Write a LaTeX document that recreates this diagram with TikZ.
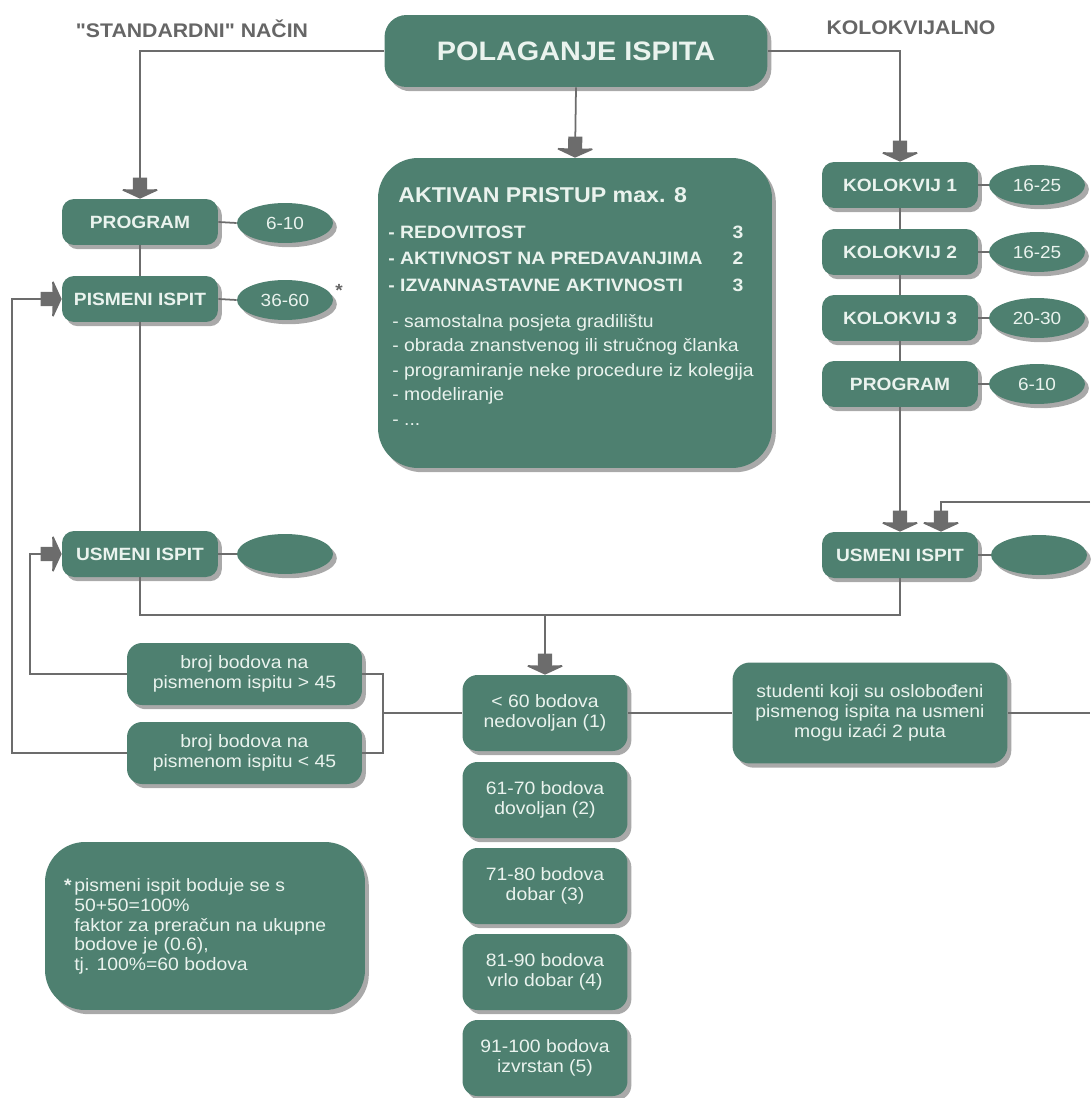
\documentclass[tikz,border=0pt]{standalone}
\usepackage{fontspec}
\setmainfont[FakeStretch=1.08]{Liberation Sans}
\newfontfamily\plainsans[FakeStretch=1.08]{Liberation Sans}
\usetikzlibrary{shapes.geometric,shadows}

\definecolor{boxc}{RGB}{78,128,112}
\definecolor{txtc}{RGB}{234,243,238}
\definecolor{linec}{RGB}{108,108,108}
\definecolor{arrc}{RGB}{88,88,88}
\definecolor{headc}{RGB}{102,102,102}

\pgfdeclarearrow{
  name=BlockArr,
  setup code={
    \pgfarrowssettipend{0pt}
    \pgfarrowssetbackend{-12pt}
    \pgfarrowssetlineend{-10pt}
    \pgfarrowshullpoint{0pt}{0pt}
    \pgfarrowshullpoint{-5pt}{10pt}
    \pgfarrowshullpoint{-5pt}{-10pt}
    \pgfarrowshullpoint{-12pt}{4pt}
    \pgfarrowshullpoint{-12pt}{-4pt}
  },
  drawing code={
    \pgfpathmoveto{\pgfqpoint{0pt}{0pt}}
    \pgfpathlineto{\pgfqpoint{-4.6pt}{10pt}}
    \pgfpathlineto{\pgfqpoint{-5.4pt}{9.6pt}}
    \pgfpathlineto{\pgfqpoint{-5.2pt}{4pt}}
    \pgfpathlineto{\pgfqpoint{-12pt}{4pt}}
    \pgfpathlineto{\pgfqpoint{-12pt}{-4pt}}
    \pgfpathlineto{\pgfqpoint{-5.2pt}{-4pt}}
    \pgfpathlineto{\pgfqpoint{-5.4pt}{-9.6pt}}
    \pgfpathlineto{\pgfqpoint{-4.6pt}{-10pt}}
    \pgfpathclose
    \pgfusepathqfill
  }
}

\tikzset{
  base/.style={fill=boxc, text=txtc, inner sep=0pt, align=center,
    drop shadow={shadow xshift=2.2pt, shadow yshift=-2.4pt, opacity=0.45, fill=black!75}},
  bigbox/.style={base, minimum width=7.66cm, minimum height=1.44cm, rounded corners=0.44cm,
    font=\bfseries\fontsize{15.2}{17}\selectfont},
  aktbox/.style={base, minimum width=7.88cm, minimum height=6.2cm, rounded corners=0.8cm},
  lab/.style={base, minimum width=3.12cm, minimum height=0.92cm, rounded corners=0.24cm,
    font=\bfseries\fontsize{10.1}{12}\selectfont},
  oval/.style={base, ellipse, minimum width=1.92cm, minimum height=0.8cm,
    font=\fontsize{10}{12}\selectfont},
  note/.style={base, rounded corners=0.3cm, font=\fontsize{10.2}{11.2}\selectfont},
  head/.style={text=headc, inner sep=0pt, font=\plainsans\bfseries\fontsize{11.2}{13}\selectfont},
  intxt/.style={text=txtc, inner sep=0pt},
  conn/.style={draw=linec, line width=1pt},
  arr/.style={conn, -BlockArr, color=arrc, draw=linec}
}

\begin{document}
\begin{tikzpicture}[x=0.02cm, y=-0.02cm]
\useasboundingbox (0,0) rectangle (1090,1098);

% headings
\node[head] (hstd) at (192,29) {"STANDARDNI" NAČIN};
\node[head] (hkol) at (911,28) {KOLOKVIJALNO};

% top box
\node[bigbox] (pol) at (576,51) {POLAGANJE ISPITA};

% aktivan pristup box
\node[aktbox] (akt) at (575,313) {};
\node[intxt, anchor=west, font=\bfseries\fontsize{12.2}{14}\selectfont] (atitle) at (398,195) {AKTIVAN PRISTUP max. 8};
\node[intxt, anchor=base west, font=\bfseries\fontsize{10.2}{12}\selectfont] (a1) at (388,238.5) {- REDOVITOST};
\node[intxt, anchor=base west, font=\bfseries\fontsize{10.2}{12}\selectfont] (a2) at (388,264.5) {- AKTIVNOST NA PREDAVANJIMA};
\node[intxt, anchor=base west, font=\bfseries\fontsize{10.2}{12}\selectfont] (a3) at (388,291.5) {- IZVANNASTAVNE AKTIVNOSTI};
\node[intxt, anchor=base, font=\bfseries\fontsize{10.2}{12}\selectfont] (n1) at (738,238.5) {3};
\node[intxt, anchor=base, font=\bfseries\fontsize{10.2}{12}\selectfont] (n2) at (738,264.5) {2};
\node[intxt, anchor=base, font=\bfseries\fontsize{10.2}{12}\selectfont] (n3) at (738,291.5) {3};
\node[intxt, anchor=base west, font=\fontsize{10.2}{12}\selectfont] (s1) at (392,327) {- samostalna posjeta gradilištu};
\node[intxt, anchor=base west, font=\fontsize{10.2}{12}\selectfont] (s2) at (392,351.5) {- obrada znanstvenog ili stručnog članka};
\node[intxt, anchor=base west, font=\fontsize{10.2}{12}\selectfont] (s3) at (392,376) {- programiranje neke procedure iz kolegija};
\node[intxt, anchor=base west, font=\fontsize{10.2}{12}\selectfont] (s4) at (392,400.5) {- modeliranje};
\node[intxt, anchor=base west, font=\fontsize{10.2}{12}\selectfont] (s5) at (392,425) {- ...};

% left column
\node[lab] (progL) at (140,222) {PROGRAM};
\node[lab] (pisL) at (140,299) {PISMENI ISPIT};
\node[lab] (usmL) at (140,554) {USMENI ISPIT};
\node[oval] (eprogL) at (285,223) {6-10};
\node[oval] (episL) at (285,300) {36-60};
\node[oval] (eusmL) at (285,554) {};
\node[text=headc, inner sep=0pt, font=\bfseries\fontsize{10}{12}\selectfont] (ast) at (339,290) {*};

% right column
\node[lab] (k1) at (900,185) {KOLOKVIJ 1};
\node[lab] (k2) at (900,252) {KOLOKVIJ 2};
\node[lab] (k3) at (900,318) {KOLOKVIJ 3};
\node[lab] (progR) at (900,384) {PROGRAM};
\node[lab] (usmR) at (900,555) {USMENI ISPIT};
\node[oval] (ek1) at (1037,185) {16-25};
\node[oval] (ek2) at (1037,252) {16-25};
\node[oval] (ek3) at (1037,318) {20-30};
\node[oval] (eprogR) at (1037,384) {6-10};
\node[oval] (eusmR) at (1039,555) {};

% lower boxes
\node[note, minimum width=4.7cm, minimum height=1.24cm] (b1) at (244.5,674) {broj bodova na\\pismenom ispitu > 45};
\node[note, minimum width=4.7cm, minimum height=1.24cm] (b2) at (244.5,753) {broj bodova na\\pismenom ispitu < 45};
\node[note, minimum width=3.3cm, minimum height=1.52cm] (g1) at (545,713) {< 60 bodova\\nedovoljan (1)};
\node[note, minimum width=3.3cm, minimum height=1.52cm] (g2) at (545,800) {61-70 bodova\\dovoljan (2)};
\node[note, minimum width=3.3cm, minimum height=1.52cm] (g3) at (545,886) {71-80 bodova\\dobar (3)};
\node[note, minimum width=3.3cm, minimum height=1.52cm] (g4) at (545,972) {81-90 bodova\\vrlo dobar (4)};
\node[note, minimum width=3.3cm, minimum height=1.52cm] (g5) at (545,1058) {91-100 bodova\\izvrstan (5)};
\node[note, minimum width=5.5cm, minimum height=2.02cm, rounded corners=0.35cm] (stud) at (870,713)
  {studenti koji su oslobođeni\\pismenog ispita na usmeni\\mogu izaći 2 puta};

% footnote box
\node[base, minimum width=6.4cm, minimum height=3.36cm, rounded corners=0.8cm] (foot) at (205,926) {};
\node[intxt, anchor=north west, align=left, font=\fontsize{10.2}{11.3}\selectfont] (foottxt) at (74,878)
  {\llap{\bfseries*\hspace{1.5pt}}pismeni ispit boduje se s\\50+50=100\%\\faktor za preračun na ukupne\\bodove je (0.6),\\tj. 100\%=60 bodova};

% helper coordinates
\coordinate (bus) at (545,615);
\coordinate (lb1) at (30,674);
\coordinate (lb2) at (12,753);
\coordinate (br1) at (383,674);
\coordinate (br2) at (383,753);
\coordinate (brm) at (383,713);
\coordinate (rout) at (1090,713);
\coordinate (rin) at (1090,502);

% connectors
\draw[arr] (pol.west) -| (progL.north);
\draw[arr] (pol.east) -| (k1.north);
\draw[arr] (pol.south) -- (akt.north);

\draw[conn] (progL.south) -- (pisL.north);
\draw[conn] (pisL.south) -- (usmL.north);
\draw[conn] (progL.east) -- (eprogL.west);
\draw[conn] (pisL.east) -- (episL.west);
\draw[conn] (usmL.east) -- (eusmL.west);

\draw[conn] (k1.south) -- (k2.north);
\draw[conn] (k2.south) -- (k3.north);
\draw[conn] (k3.south) -- (progR.north);
\draw[arr] (progR.south) -- (usmR.north);
\draw[arr] (rin) -| ([xshift=0.82cm]usmR.north);
\draw[conn] (k1.east) -- (ek1.west);
\draw[conn] (k2.east) -- (ek2.west);
\draw[conn] (k3.east) -- (ek3.west);
\draw[conn] (progR.east) -- (eprogR.west);
\draw[conn] (usmR.east) -- (eusmR.west);

\draw[conn] (usmL.south) |- (bus) -| (usmR.south);
\draw[arr] (bus) -- (g1.north);

\draw[arr] (b1.west) -- (lb1) |- (usmL.west);
\draw[arr] (b2.west) -- (lb2) |- (pisL.west);
\draw[conn] (b1.east) -- (br1) -- (br2) -- (b2.east);
\draw[conn] (brm) -- (g1.west);
\draw[conn] (g1.east) -- (stud.west);
\draw[conn] (stud.east) -- (rout);
\end{tikzpicture}
\end{document}
